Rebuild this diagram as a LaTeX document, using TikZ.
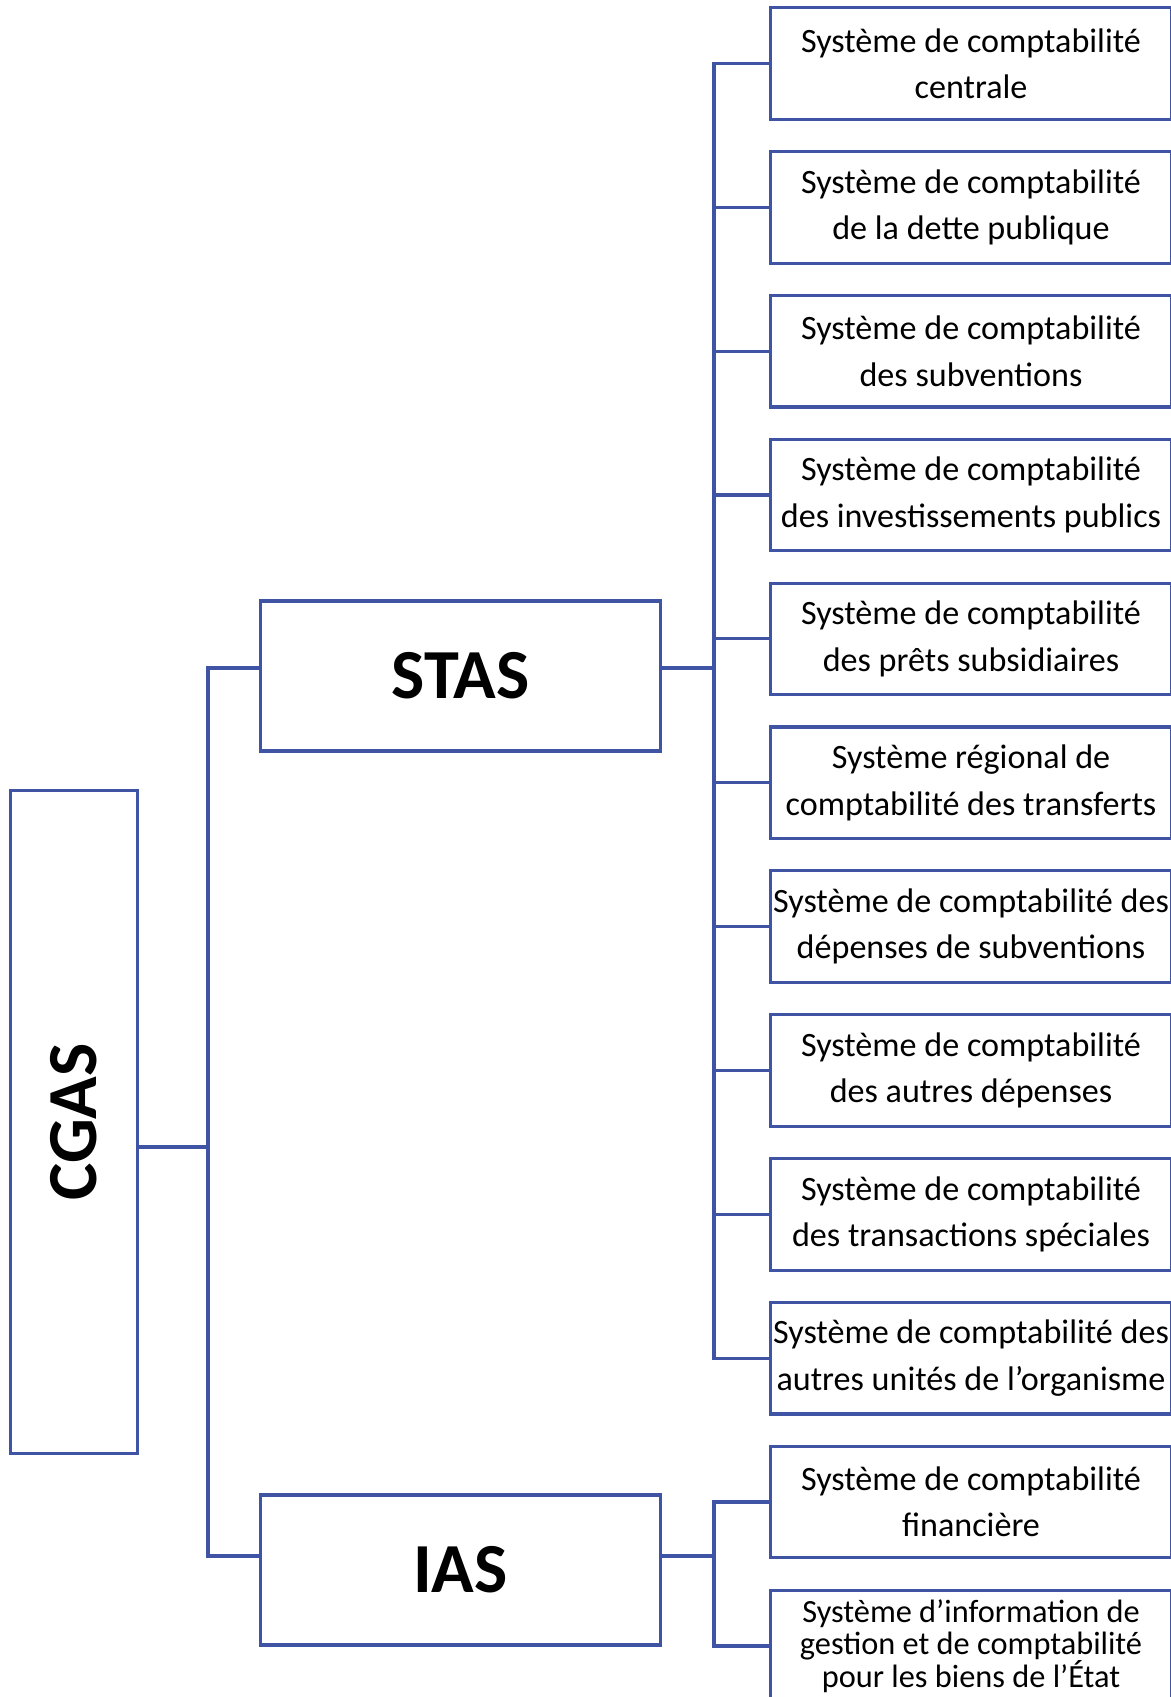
\documentclass[tikz,border=0pt]{standalone}
\usepackage{fontspec}
\setmainfont{Carlito}
\usetikzlibrary{positioning, calc}
\definecolor{trait}{HTML}{3F54A4}

\begin{document}
\begin{tikzpicture}[x=0.01cm, y=-0.01cm, line width=0.9pt, draw=trait,
    boite/.style={draw=trait, line width=0.9pt, fill=white, align=center, inner sep=0pt},
    feuille/.style={boite, minimum width=4cm, minimum height=1.115cm,
                    font=\fontsize{9.7}{13.2}\selectfont},
    branche/.style={boite, minimum width=3.99cm, minimum height=1.5cm,
                    font=\fontsize{20}{24}\selectfont\bfseries}]
    \useasboundingbox (0,0) rectangle (1171,1697);
    % bus points
    \coordinate (busS) at (714, 668);
    \coordinate (busI) at (714, 1556);
    \coordinate (busG) at (208, 1147);
    % racine et branches
    \node[boite, minimum width=1.267cm, minimum height=6.625cm] (cgas) at (74, 1122)
        {\rotatebox{90}{\fontsize{20}{24}\selectfont\bfseries CGAS}};
    \node[branche] (stas) at (460.5, 676) {STAS};
    \node[branche] (ias) at (460.5, 1570) {IAS};
    % systemes
    \foreach \i/\t in {0/{Système de comptabilité\\centrale},
                       1/{Système de comptabilité\\de la dette publique},
                       2/{Système de comptabilité\\des subventions},
                       3/{Système de comptabilité\\des investissements publics},
                       4/{Système de comptabilité\\des prêts subsidiaires},
                       5/{Système régional de\\comptabilité des transferts},
                       6/{Système de comptabilité des\\dépenses de subventions},
                       7/{Système de comptabilité\\des autres dépenses},
                       8/{Système de comptabilité\\des transactions spéciales},
                       9/{Système de comptabilité des\\autres unités de l’organisme},
                       10/{Système de comptabilité\\financière}} {
        \node[feuille] (sys\i) at (971, 63.5+143.85*\i) {\t};
    }
    \node[feuille, font=\fontsize{9.2}{9.3}\selectfont] (sys11) at (971, 1646)
        {Système d’information de\\gestion et de comptabilité\\pour les biens de l’État};
    % liaisons
    \draw (sys0.west) -| (busS) |- (sys9.west);
    \foreach \i in {1,...,8} \draw (busS |- sys\i) -- (sys\i.west);
    \draw (stas.east |- busS) -- (busS);
    \draw (sys10.west) -| (busI) |- (sys11.west);
    \draw (ias.east |- busI) -- (busI);
    \draw (stas.west |- busS) -| (busG) |- (ias.west |- busI);
    \draw (cgas.east |- busG) -- (busG);
\end{tikzpicture}
\end{document}
